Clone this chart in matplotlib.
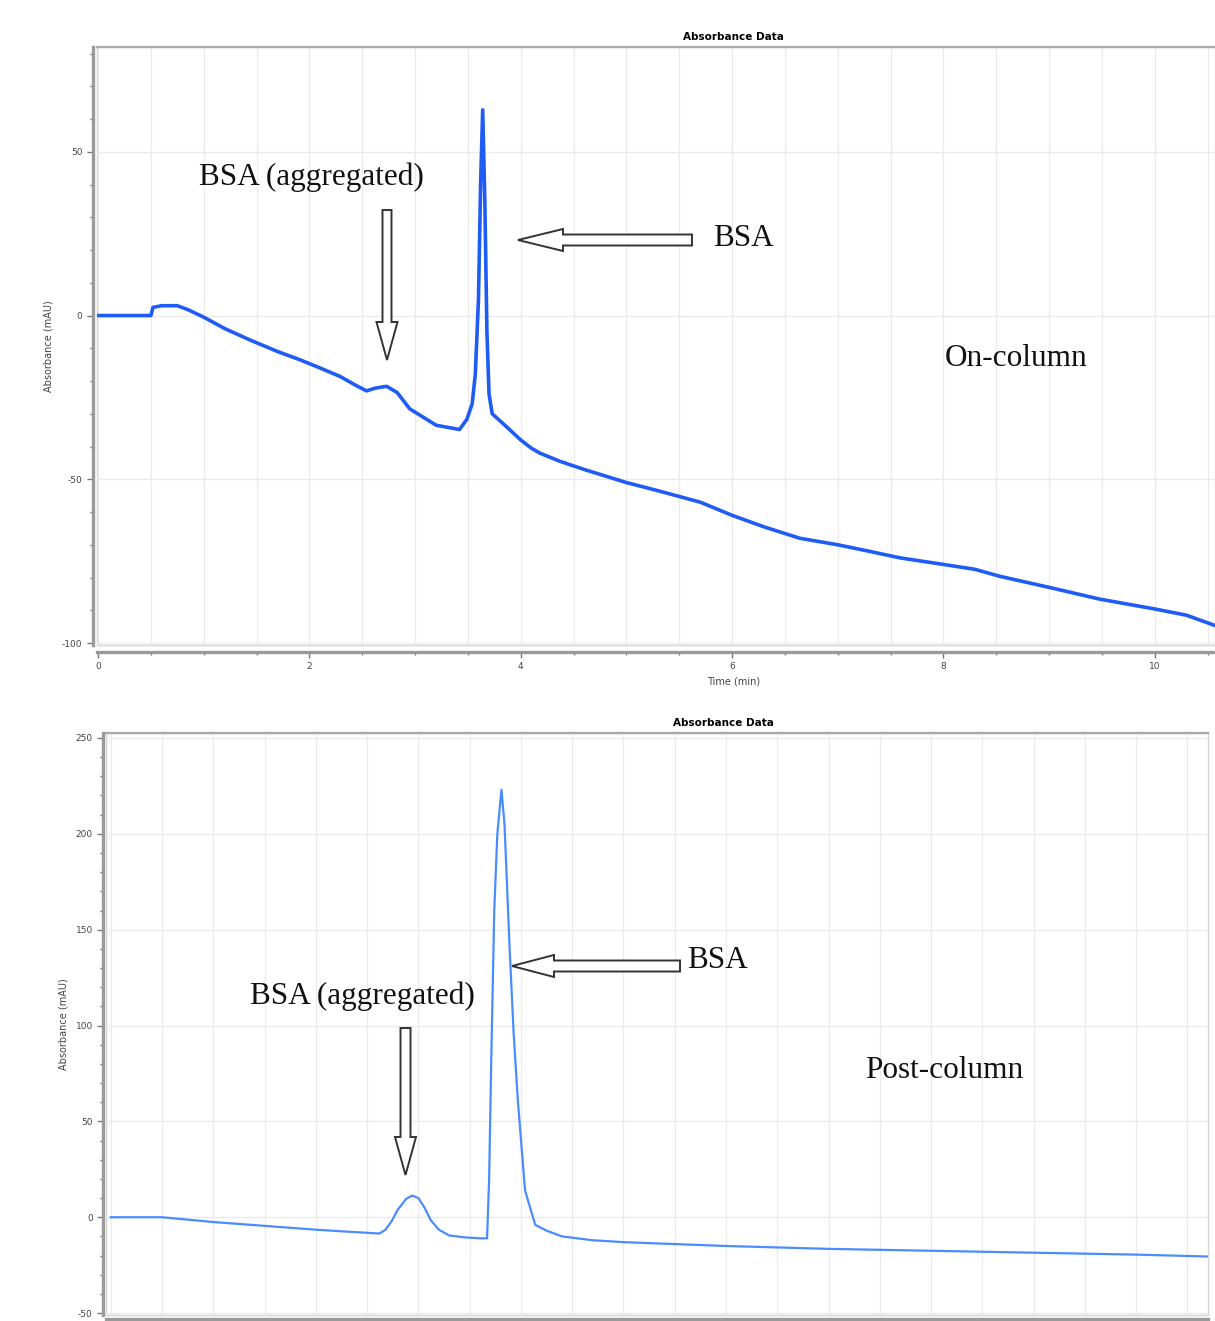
import numpy as np
import matplotlib.pyplot as plt
from matplotlib.patches import FancyArrow, Rectangle
from matplotlib.ticker import MultipleLocator

plt.rcParams["axes.unicode_minus"] = False

# On-column trace (time in min, absorbance in mAU)
top_time = [0.0, 0.5, 0.52, 0.6, 0.75, 0.85, 1.0, 1.2, 1.44, 1.7, 1.91, 2.1, 2.29,
            2.45, 2.54, 2.62, 2.73, 2.83, 2.95, 3.05, 3.2, 3.42, 3.49, 3.54, 3.57,
            3.6, 3.62, 3.64, 3.66, 3.68, 3.7, 3.73, 3.85, 4.0, 4.1, 4.18, 4.37, 4.6, 4.75,
            5.0, 5.3, 5.7, 6.0, 6.3, 6.64, 7.0, 7.3, 7.59, 8.0, 8.3, 8.53, 9.0, 9.48,
            10.0, 10.3, 10.6]
top_abs = [0.0, 0.0, 2.5, 3.0, 3.0, 1.8, -0.5, -4.0, -7.5, -11.0, -13.5, -16.0, -18.6,
           -21.5, -23.0, -22.2, -21.6, -23.5, -28.5, -30.5, -33.5, -34.8, -31.7, -27.0, -18.0,
           5.0, 40.0, 62.8, 35.0, -5.0, -24.0, -30.0, -33.5, -38.0, -40.5, -42.0, -44.5, -47.0, -48.5,
           -51.0, -53.5, -57.0, -61.0, -64.5, -68.0, -70.0, -72.0, -74.0, -76.0, -77.5, -79.6, -83.0, -86.6,
           -89.6, -91.5, -95.0]

# Post-column trace
bot_time = [0.0, 0.5, 0.7, 1.0, 1.5, 2.0, 2.3, 2.62, 2.68, 2.74, 2.8, 2.88, 2.94, 3.0,
            3.06, 3.12, 3.2, 3.3, 3.45, 3.6, 3.67, 3.69, 3.71, 3.74, 3.77, 3.81, 3.84,
            3.89, 3.93, 3.97, 4.04, 4.14, 4.25, 4.4, 4.7, 5.0, 6.0, 7.0, 8.0, 9.0, 10.0, 10.7]
bot_abs = [0.0, 0.0, -1.0, -2.5, -4.5, -6.5, -7.5, -8.5, -6.5, -2.0, 4.0, 9.5, 11.3, 10.0,
           5.0, -1.5, -6.5, -9.5, -10.5, -11.0, -11.0, 20.0, 80.0, 160.0, 200.0, 223.0, 205.0,
           140.0, 95.0, 61.0, 14.0, -4.0, -7.0, -10.0, -12.0, -13.0, -15.0, -16.5, -17.5, -18.5, -19.5, -20.5]

top_yticks = [-100, -50, 0, 50]
top_xticks = [0, 2, 4, 6, 8, 10]
bot_yticks = [-50, 0, 50, 100, 150, 200, 250]

W, H = 1215, 1321
fig = plt.figure(figsize=(W / 100, H / 100), dpi=100)
fig.patch.set_facecolor("white")

grid_c = "#ebebeb"
spine_c = "#9a9a9a"
lab_c = "#444444"


def style_axes(ax, offset_bottom, offset_left):
    ax.spines["right"].set_visible(False)
    ax.spines["top"].set_color("#a8a8a8")
    ax.spines["top"].set_linewidth(1.6)
    for s in ("left", "bottom"):
        ax.spines[s].set_color(spine_c)
        ax.spines[s].set_linewidth(2.4)
    ax.spines["bottom"].set_position(("outward", offset_bottom))
    ax.spines["left"].set_position(("outward", offset_left))
    # faint border of the plot area
    ax.add_patch(Rectangle((0, 0), 1, 1, transform=ax.transAxes, fill=False,
                           edgecolor="#d4d4d4", lw=1.0, clip_on=False, zorder=0))
    ax.tick_params(which="major", length=4, width=1, color="#777777",
                   labelsize=6.5, labelcolor=lab_c)
    ax.tick_params(which="minor", length=2.5, width=1, color="#777777")
    ax.xaxis.set_minor_locator(MultipleLocator(0.5))
    ax.yaxis.set_minor_locator(MultipleLocator(10))
    ax.grid(True, which="major", axis="y", color=grid_c, lw=1)
    ax.grid(True, which="both", axis="x", color=grid_c, lw=1)
    ax.set_axisbelow(True)


# ---- top panel: on-column
ax1 = fig.add_axes([97 / W, 1 - 645 / H, (W - 97) / W, (645 - 47) / H])
ax1.plot(top_time, top_abs, color="#1f5cf5", lw=2.6, solid_joinstyle="round")
ax1.set_xlim(-0.01, 10.57)
ax1.set_ylim(-100.6, 82)
ax1.set_xticks(top_xticks)
ax1.set_yticks(top_yticks)
style_axes(ax1, 5, 3)
ax1.set_xlabel("Time (min)", fontsize=7, color=lab_c)
ax1.xaxis.set_label_coords(0.569, -0.052)
ax1.set_ylabel("Absorbance (mAU)", fontsize=7, color=lab_c, labelpad=6)
ax1.set_title("Absorbance Data", fontsize=7.5, fontweight="bold", x=0.569, pad=5)

# ---- bottom panel: post-column
ax2 = fig.add_axes([106 / W, 1 - 1315 / H, (1208 - 106) / W, (1315 - 733) / H])
ax2.plot(bot_time, bot_abs, color="#4a8cff", lw=1.6, solid_joinstyle="round")
ax2.set_xlim(-0.046, 10.7)
ax2.set_ylim(-51, 252.6)
ax2.set_xticks(top_xticks)
ax2.set_xticklabels([])
ax2.set_yticks(bot_yticks)
style_axes(ax2, 3, 2)
ax2.set_ylabel("Absorbance (mAU)", fontsize=7, color=lab_c, labelpad=5)
ax2.set_title("Absorbance Data", fontsize=7.5, fontweight="bold", x=0.56, pad=5)

# ---- overlay in pixel coordinates for labels and arrows
ov = fig.add_axes([0, 0, 1, 1])
ov.set_xlim(0, W)
ov.set_ylim(H, 0)
ov.axis("off")
ov.patch.set_alpha(0)

serif = "Liberation Serif"
txt_kw = dict(family=serif, fontsize=22.5, color="#111111", ha="center", va="center")
ov.text(311, 177, "BSA (aggregated)", **txt_kw)
ov.text(743, 238, "BSA", **txt_kw)
ov.text(1016, 358, "On-column", **txt_kw)
ov.text(717, 960, "BSA", **txt_kw)
ov.text(362, 996, "BSA (aggregated)", **txt_kw)
ov.text(944, 1071, "Post-column", **txt_kw)

arr_kw = dict(length_includes_head=True, facecolor="white", edgecolor="#333333", lw=1.4)
ov.add_patch(FancyArrow(387, 210, 0, 150, width=9, head_width=21, head_length=38, **arr_kw))
ov.add_patch(FancyArrow(692, 240, -174, 0, width=11, head_width=22, head_length=45, **arr_kw))
ov.add_patch(FancyArrow(405.5, 1028, 0, 147, width=10, head_width=21, head_length=38, **arr_kw))
ov.add_patch(FancyArrow(680, 966, -168, 0, width=11, head_width=22, head_length=42, **arr_kw))

fig.savefig("out.png", dpi=100)
